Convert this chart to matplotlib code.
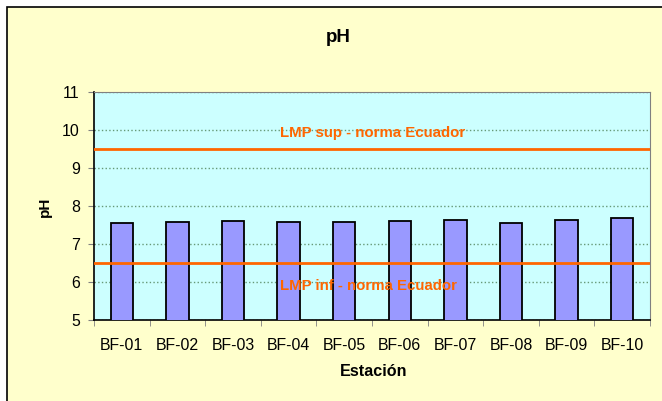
import matplotlib.pyplot as plt
from matplotlib.patches import Rectangle

plt.rcParams['font.family'] = ['Liberation Sans', 'DejaVu Sans']

estaciones = ['BF-01', 'BF-02', 'BF-03', 'BF-04', 'BF-05',
              'BF-06', 'BF-07', 'BF-08', 'BF-09', 'BF-10']
ph = [7.54, 7.58, 7.60, 7.58, 7.58, 7.61, 7.62, 7.55, 7.63, 7.69]
lmp_sup = 9.5
lmp_inf = 6.5

W, H = 662, 401
fig = plt.figure(figsize=(W / 100, H / 100), dpi=100, facecolor='white')
# cream chart area with black frame (right and bottom edges run off the picture)
fig.patches.append(Rectangle((7 / W, -0.1), 1, 1.1 - 7 / H, transform=fig.transFigure,
                             facecolor='#FFFFCC', edgecolor='black', linewidth=1.2,
                             zorder=-1))

ax = fig.add_axes([94 / W, 1 - 320 / H, (650 - 94) / W, (320 - 92) / H])
ax.set_facecolor('#CCFFFF')

x = range(len(estaciones))
ax.bar(x, ph, width=0.4, color='#9999FF', edgecolor='black', linewidth=1.3, zorder=3)

ax.axhline(lmp_sup, color='#FF6600', linewidth=2, zorder=4)
ax.axhline(lmp_inf, color='#FF6600', linewidth=2, zorder=4)
ax.text(2.85, 9.92, 'LMP sup - norma Ecuador', color='#FF6600', fontsize=10.8,
        fontweight='bold', ha='left', va='center', zorder=5)
ax.text(2.85, 5.89, 'LMP inf - norma Ecuador', color='#FF6600', fontsize=10.8,
        fontweight='bold', ha='left', va='center', zorder=5)

ax.set_xlim(-0.5, len(estaciones) - 0.5)
ax.set_ylim(5, 11)
ax.set_yticks(range(5, 12))
ax.set_xticks(x)
ax.set_xticklabels(estaciones)
ax.set_xticks([i - 0.5 for i in range(len(estaciones) + 1)], minor=True)
ax.tick_params(axis='x', which='major', length=0, pad=13, labelsize=11.4)
ax.tick_params(axis='x', which='minor', length=4.3, color='#808080')
ax.tick_params(axis='y', length=4.3, color='#808080', labelsize=11.4, pad=6)
ax.yaxis.grid(True, linestyle=':', color='#669977', linewidth=1, zorder=1)

for side in ['top', 'right']:
    ax.spines[side].set_color('#808080')
for side in ['left', 'bottom']:
    ax.spines[side].set_color('black')
    ax.spines[side].set_linewidth(1.2)

fig.text(338.5 / W, 1 - 38 / H, 'pH', fontsize=13.5, fontweight='bold',
         ha='center', va='center')
fig.text(374 / W, 1 - 371 / H, 'Estación', fontsize=11.6, fontweight='bold',
         ha='center', va='center')
fig.text(45 / W, 1 - 207 / H, 'pH', fontsize=11, fontweight='bold',
         ha='center', va='center', rotation=90)

fig.savefig('out.png', dpi=100, facecolor='white')
